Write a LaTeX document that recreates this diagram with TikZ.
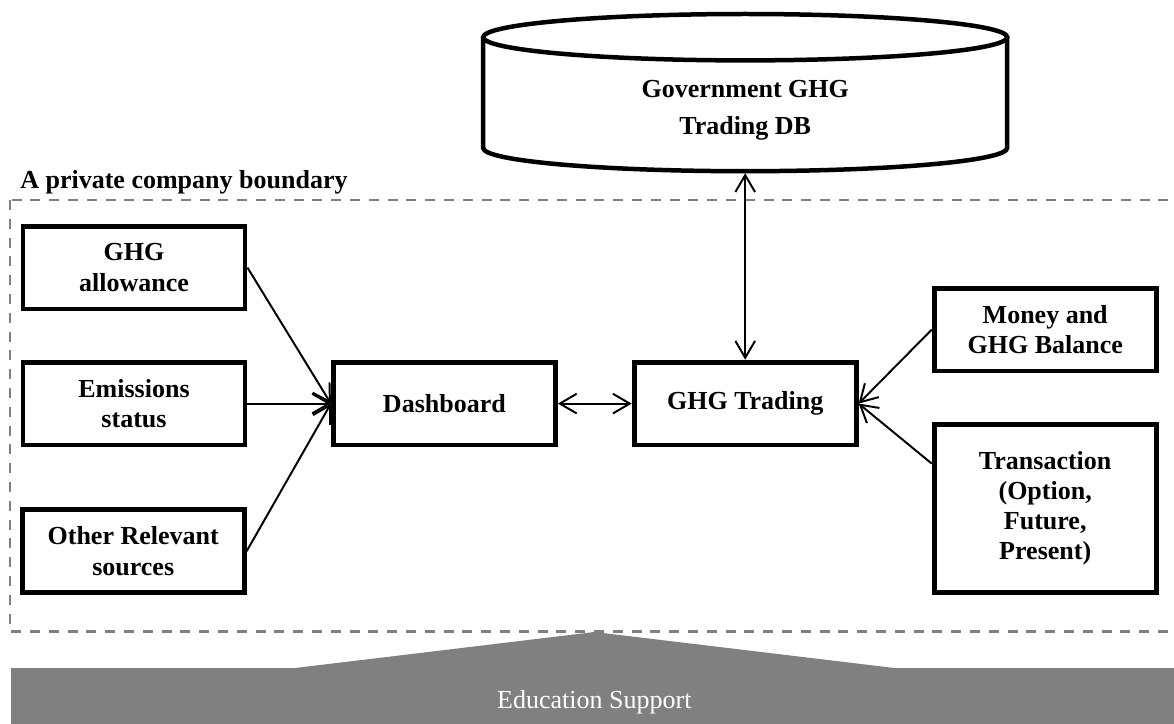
\documentclass[tikz,border=0pt]{standalone}
\usepackage{fontspec}
\setmainfont{Liberation Serif}
\usetikzlibrary{arrows.meta}

\tikzset{
  box/.style={draw=black, line width=3.5pt, minimum width=5.55cm, minimum height=2.07cm,
    align=center, inner sep=2pt, font=\fontsize{18.5}{21.5}\selectfont\bfseries},
  link/.style={line width=1.4pt, -{Straight Barb[length=12pt,width=14pt]}},
  twoway/.style={line width=1.4pt, {Straight Barb[length=12pt,width=14pt]}-{Straight Barb[length=12pt,width=14pt]}},
}

\begin{document}
\begin{tikzpicture}
\useasboundingbox (0,0) rectangle (29.35,-18.1);

% education band
\fill[color=gray] (0.28,-16.7) -- (7.38,-16.7) -- (14.86,-15.8) -- (22.36,-16.7) -- (29.6,-16.7)
  -- (29.6,-18.2) -- (0.28,-18.2) -- cycle;
\node[text=white, font=\fontsize{18.5}{21.5}\selectfont] (edu) at (14.86,-17.55) {Education Support};

% company boundary
\draw[color=gray, line width=2pt, dash pattern=on 0.25cm off 0.22cm] (0.25,-5) rectangle (29.8,-15.78);
\node[anchor=base west, inner sep=0pt, font=\fontsize{18.5}{21.5}\selectfont\bfseries] (bound) at (0.5,-4.7) {A private company boundary};

% government database
\draw[color=black, line width=3.2pt] (12.08,-0.93) -- (12.08,-3.7) arc (180:360:6.55 and 0.58) -- (25.18,-0.93);
\draw[color=black, line width=3.2pt] (18.63,-0.93) ellipse (6.55 and 0.58);
\node[align=center, font=\fontsize{18.5}{26}\selectfont\bfseries] (govdb) at (18.63,-2.75) {Government GHG\\Trading DB};
\coordinate (dbbot) at (18.63,-4.33);

\node[box] (allow) at (3.35,-6.69) {GHG\\allowance};
\node[box] (emis) at (3.35,-10.09) {Emissions\\status};
\node[box] (other) at (3.33,-13.78) {Other Relevant\\sources};
\node[box] (dash) at (11.11,-10.09) {Dashboard};
\node[box] (trade) at (18.63,-10.09) {GHG Trading};
\node[box] (money) at (26.13,-8.24) {Money and\\GHG Balance};
\node[box, minimum height=4.2cm] (trans) at (26.13,-12.71) {Transaction\\(Option,\\Future,\\Present)};

\draw[link] (allow.east) -- (dash.west);
\draw[link] (emis.east) -- (dash.west);
\draw[link] (other.east) -- (dash.west);
\draw[twoway] (dash) -- (trade);
\draw[twoway] (dbbot) -- (trade);
\draw[link] (money.west) -- (trade.east);
\draw[link] ([yshift=1.12cm]trans.west) -- (trade.east);
\end{tikzpicture}
\end{document}
